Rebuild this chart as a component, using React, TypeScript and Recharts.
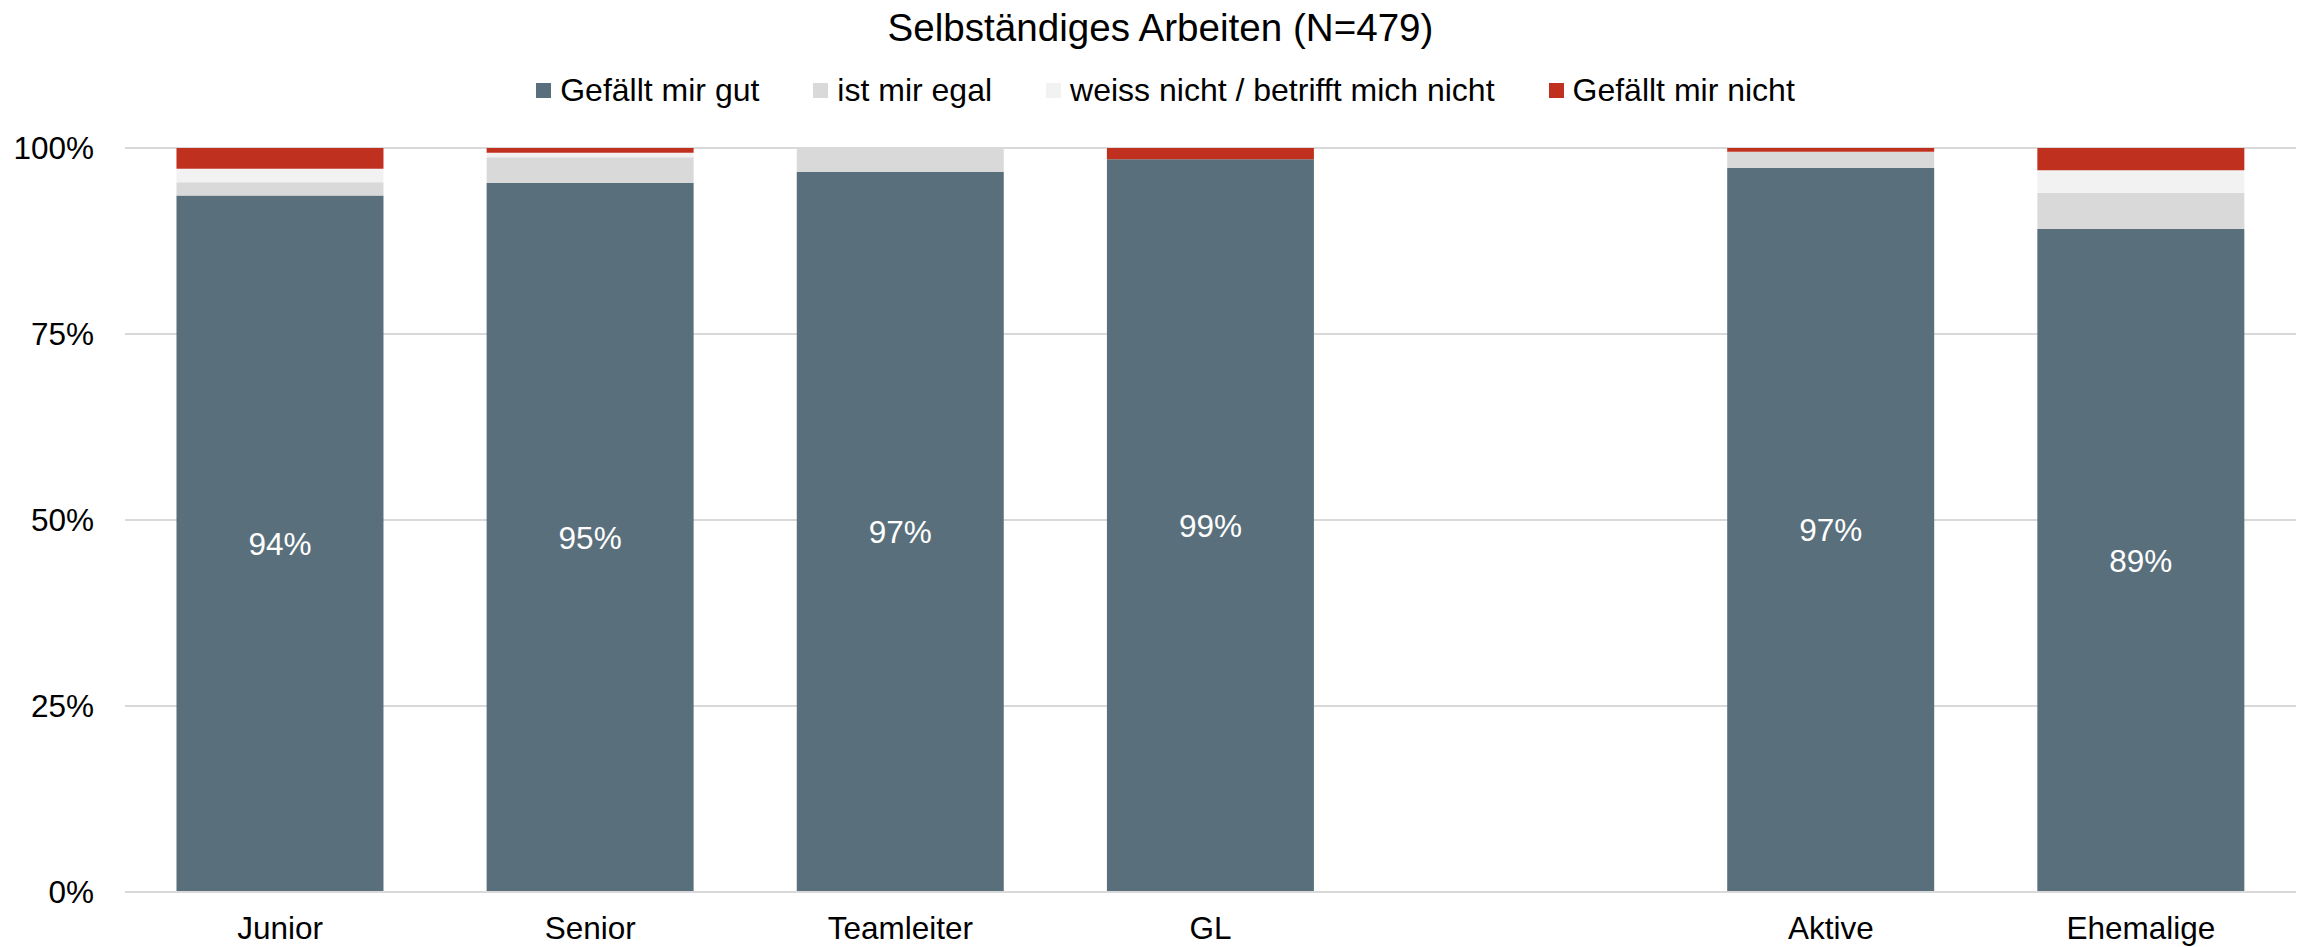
import React from "react";
import { BarChart, Bar, XAxis, YAxis, CartesianGrid, Legend, LabelList } from "recharts";

const categories = ["Junior", "Senior", "Teamleiter", "GL", "", "Aktive", "Ehemalige"];
const gefaelltGut = [93.6, 95.3, 96.8, 98.5, null, 97.35, 89.1];
const egal = [1.8, 3.45, 3.2, 0, null, 2.15, 4.9];
const weissNicht = [1.8, 0.6, 0, 0, null, 0, 3.0];
const gefaelltNicht = [2.8, 0.65, 0, 1.5, null, 0.5, 3.0];
const yTicks = [0, 25, 50, 75, 100];

const seriesNames = ["Gefällt mir gut", "ist mir egal", "weiss nicht / betrifft mich nicht", "Gefällt mir nicht"];
const seriesColors = ["#59707C", "#D9D9D9", "#F2F2F2", "#C0301F"];

const data = categories.map((name, i) => ({
  name,
  gut: gefaelltGut[i],
  egal: egal[i],
  weiss: weissNicht[i],
  nicht: gefaelltNicht[i],
}));

const FONT = '"Liberation Sans", Arial, sans-serif';

const LegendContent = () => (
  <div
    style={{
      display: "flex",
      justifyContent: "center",
      alignItems: "center",
      fontFamily: FONT,
      fontSize: 32,
      lineHeight: "32px",
      color: "#000",
    }}
  >
    {seriesNames.map((n, i) => (
      <div key={n} style={{ display: "flex", alignItems: "center", marginRight: i < 3 ? 54 : 0 }}>
        <div style={{ width: 15, height: 15, background: seriesColors[i], marginRight: 9 }} />
        <span>{n}</span>
      </div>
    ))}
  </div>
);

export default function App() {
  return (
    <div style={{ position: "absolute", left: 0, top: 0, width: 2303, height: 947, background: "#fff" }}>
      <div
        style={{
          position: "absolute",
          top: 9,
          left: 9,
          width: 2303,
          textAlign: "center",
          fontFamily: FONT,
          fontSize: 38.6,
          lineHeight: "38.6px",
          color: "#000",
        }}
      >
        Selbständiges Arbeiten (N=479)
      </div>
      <BarChart
        width={2303}
        height={947}
        data={data}
        margin={{ top: 148, right: 7, bottom: 0, left: 0 }}
        barCategoryGap="16.6%"
      >
        <CartesianGrid vertical={false} stroke="#D9D9D9" strokeWidth={2} />
        <XAxis
          dataKey="name"
          interval={0}
          height={55}
          tickSize={0}
          tickMargin={25}
          tickLine={false}
          axisLine={{ stroke: "#D9D9D9", strokeWidth: 2 }}
          tick={{ fontSize: 31.5, fill: "#000", fontFamily: FONT }}
        />
        <YAxis
          type="number"
          domain={[0, 100]}
          ticks={yTicks}
          width={125}
          tickSize={0}
          tickMargin={31}
          tickLine={false}
          axisLine={false}
          tickFormatter={(v: number) => `${v}%`}
          tick={{ fontSize: 31.5, fill: "#000", fontFamily: FONT }}
        />
        <Legend
          layout="horizontal"
          verticalAlign="middle"
          align="center"
          content={<LegendContent />}
          wrapperStyle={{ top: 74, left: 14, width: 2303 }}
        />
        <Bar dataKey="gut" stackId="a" fill={seriesColors[0]} isAnimationActive={false}>
          <LabelList
            dataKey="gut"
            position="center"
            fill="#fff"
            style={{ fontSize: 31.5, fontFamily: FONT }}
            formatter={(v: any) => (v == null ? "" : `${Math.round(v)}%`)}
          />
        </Bar>
        <Bar dataKey="egal" stackId="a" fill={seriesColors[1]} isAnimationActive={false} />
        <Bar dataKey="weiss" stackId="a" fill={seriesColors[2]} isAnimationActive={false} />
        <Bar dataKey="nicht" stackId="a" fill={seriesColors[3]} isAnimationActive={false} />
      </BarChart>
    </div>
  );
}
